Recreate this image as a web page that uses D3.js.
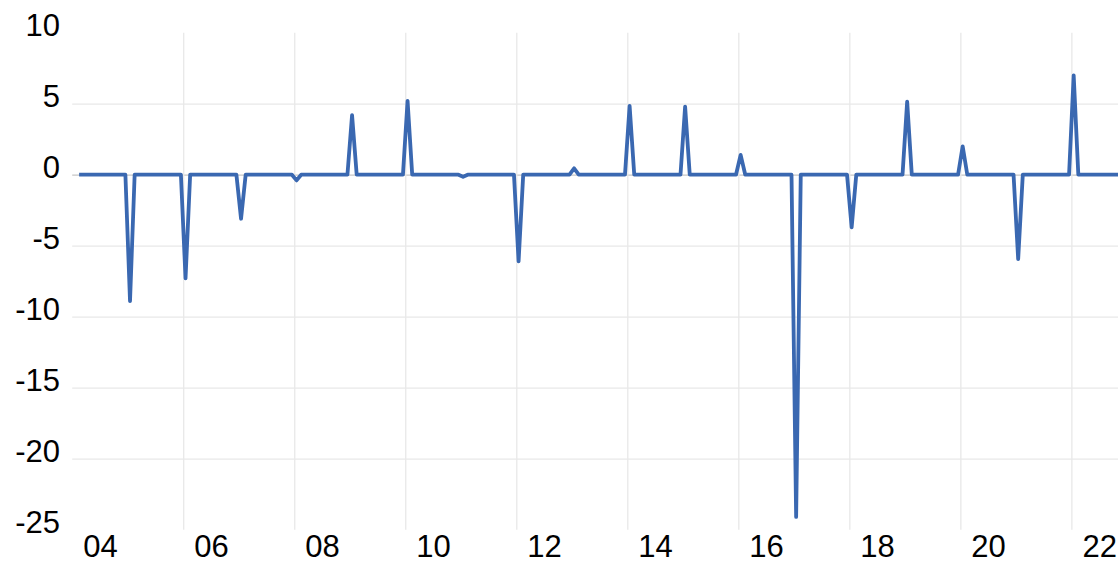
<!DOCTYPE html>
<html>
<head>
<meta charset="utf-8">
<script src="https://cdn.jsdelivr.net/npm/d3@7"></script>
<style>
  body { margin: 0; background: #fff; }
  svg { display: block; }
  .tick text { font-family: "Liberation Sans", Arial, sans-serif; fill: #000; }
</style>
</head>
<body>
<div id="chart"></div>
<script>
// Monthly series, first point Feb 2004, one row per year (Jan..Dec)
const startYear = 2004;
const startMonth = 2;
const values = [
    /* 2004 */      0, 0, 0, 0, 0, 0, 0, 0, 0, 0, 0,
    /* 2005 */ -8.9, 0, 0, 0, 0, 0, 0, 0, 0, 0, 0, 0,
    /* 2006 */ -7.3, 0, 0, 0, 0, 0, 0, 0, 0, 0, 0, 0,
    /* 2007 */ -3.1, 0, 0, 0, 0, 0, 0, 0, 0, 0, 0, 0,
    /* 2008 */ -0.4, 0, 0, 0, 0, 0, 0, 0, 0, 0, 0, 0,
    /* 2009 */  4.2, 0, 0, 0, 0, 0, 0, 0, 0, 0, 0, 0,
    /* 2010 */  5.2, 0, 0, 0, 0, 0, 0, 0, 0, 0, 0, 0,
    /* 2011 */ -0.15, 0, 0, 0, 0, 0, 0, 0, 0, 0, 0, 0,
    /* 2012 */ -6.1, 0, 0, 0, 0, 0, 0, 0, 0, 0, 0, 0,
    /* 2013 */  0.45, 0, 0, 0, 0, 0, 0, 0, 0, 0, 0, 0,
    /* 2014 */  4.85, 0, 0, 0, 0, 0, 0, 0, 0, 0, 0, 0,
    /* 2015 */  4.8, 0, 0, 0, 0, 0, 0, 0, 0, 0, 0, 0,
    /* 2016 */  1.4, 0, 0, 0, 0, 0, 0, 0, 0, 0, 0, 0,
    /* 2017 */ -24.1, 0, 0, 0, 0, 0, 0, 0, 0, 0, 0, 0,
    /* 2018 */ -3.7, 0, 0, 0, 0, 0, 0, 0, 0, 0, 0, 0,
    /* 2019 */  5.15, 0, 0, 0, 0, 0, 0, 0, 0, 0, 0, 0,
    /* 2020 */  2.0, 0, 0, 0, 0, 0, 0, 0, 0, 0, 0, 0,
    /* 2021 */ -5.95, 0, 0, 0, 0, 0, 0, 0, 0, 0, 0, 0,
    /* 2022 */  7.0, 0, 0, 0, 0, 0, 0, 0, 0, 0, 0
];

const yTicks = [10, 5, 0, -5, -10, -15, -20, -25];
const yGrid = [5, 0, -5, -10, -15, -20];
const xLabelYears = [2004, 2006, 2008, 2010, 2012, 2014, 2016, 2018, 2020, 2022];
const xGridYears = [2006, 2008, 2010, 2012, 2014, 2016, 2018, 2020, 2022];

// Layout
const W = 1118, H = 563;
const plot = { left: 72.2, right: 1118, top: 32.7, bottom: 529.7 };

const svg = d3.select("#chart").append("svg")
    .attr("width", W)
    .attr("height", H);

// Build date/value pairs (mid-month positions)
const data = values.map((v, i) => {
    const m = startMonth - 1 + i;
    const yr = startYear + Math.floor(m / 12);
    const mo = m % 12;
    return { t: yr + (mo + 0.5) / 12, value: v };
});

const x = d3.scaleLinear()
    .domain([2004, 2022.84])
    .range([plot.left, plot.right]);

const y = d3.scaleLinear()
    .domain([-25, 10])
    .range([plot.bottom, plot.top]);

// Horizontal gridlines
const gy = svg.append("g")
    .attr("transform", `translate(${plot.left},0)`)
    .call(d3.axisLeft(y).tickValues(yGrid).tickSize(-(plot.right - plot.left)).tickFormat(""));
gy.select(".domain").remove();
gy.selectAll(".tick line")
    .attr("stroke", d => d === 0 ? "#c6c6c6" : "#e8e8e8")
    .attr("stroke-width", 1.3);

// Vertical gridlines
const gx = svg.append("g")
    .attr("transform", `translate(0,${plot.bottom})`)
    .call(d3.axisBottom(x).tickValues(xGridYears).tickSize(-(plot.bottom - plot.top)).tickFormat(""));
gx.select(".domain").remove();
gx.selectAll(".tick line")
    .attr("stroke", "#e8e8e8")
    .attr("stroke-width", 1.3);

// Y labels (plain hyphen for negatives, as in the source)
const yAxis = svg.append("g")
    .attr("transform", "translate(60,0)")
    .call(d3.axisLeft(y).tickValues(yTicks).tickSize(0).tickPadding(0).tickFormat(d => String(d)));
yAxis.select(".domain").remove();
yAxis.selectAll(".tick text")
    .style("font-size", "31px")
    .attr("dy", "0.1em");

// X labels, centred on each labelled year
const xAxis = svg.append("g")
    .attr("transform", `translate(0,${plot.bottom})`)
    .call(d3.axisBottom(x)
        .tickValues(xLabelYears.map(d => d + 0.5))
        .tickSize(0)
        .tickPadding(0)
        .tickFormat(d => String(Math.floor(d) % 100).padStart(2, "0")));
xAxis.select(".domain").remove();
xAxis.selectAll(".tick text")
    .style("font-size", "31px")
    .attr("y", 27)
    .attr("dy", 0);

// Line
svg.append("defs").append("clipPath").attr("id", "clip")
    .append("rect")
    .attr("x", plot.left).attr("y", 0)
    .attr("width", plot.right - plot.left).attr("height", H);

const line = d3.line()
    .x(d => x(d.t))
    .y(d => y(d.value));

svg.append("path")
    .datum(data)
    .attr("clip-path", "url(#clip)")
    .attr("fill", "none")
    .attr("stroke", "#3a68b1")
    .attr("stroke-width", 3.8)
    .attr("stroke-linejoin", "round")
    .attr("d", line);
</script>
</body>
</html>
